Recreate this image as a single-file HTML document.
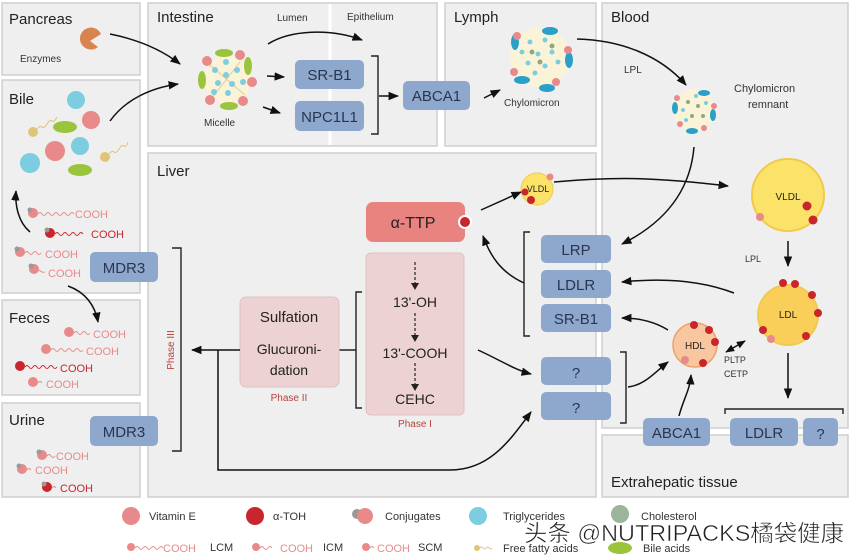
<!DOCTYPE html>
<html><head><meta charset="utf-8"><style>
html,body{margin:0;padding:0;background:#fff}
svg{display:block;font-family:"Liberation Sans","Noto Sans CJK SC",sans-serif}
.p{fill:#efefef;stroke:#cfcfcf;stroke-width:1.5}
.b{fill:#8ea8cd}
.bt{font-size:15px;fill:#2a3550;text-anchor:middle}
.t{font-size:15px;fill:#222}
.a{fill:none;stroke:#111;stroke-width:1.5;marker-end:url(#ar)}
.br{fill:none;stroke:#222;stroke-width:1.4}
.c{font-size:11px;fill:#e88a8a}
.w{fill:none;stroke:#e88a8a;stroke-width:0.9}
</style></head><body>
<svg width="850" height="557" viewBox="0 0 850 557" xmlns="http://www.w3.org/2000/svg">
<defs>
<marker id="ar" viewBox="0 0 10 10" refX="9" refY="5" markerWidth="7" markerHeight="7" orient="auto-start-reverse"><path d="M0,1 L10,5 L0,9 z" fill="#111"/></marker>
</defs>
<!-- panels -->
<rect class="p" x="2" y="3" width="138" height="72"/>
<rect class="p" x="2" y="80" width="138" height="213"/>
<rect class="p" x="2" y="300" width="138" height="95"/>
<rect class="p" x="2" y="403" width="138" height="94"/>
<rect class="p" x="148" y="3" width="289" height="143"/>
<line x1="330" y1="4" x2="330" y2="145" stroke="#fff" stroke-width="3"/>
<rect class="p" x="445" y="3" width="151" height="143"/>
<rect class="p" x="148" y="153" width="448" height="344"/>
<rect class="p" x="602" y="3" width="246" height="425"/>
<rect class="p" x="602" y="435" width="246" height="62"/>

<text class="t" x="9" y="24" font-size="16">Pancreas</text>
<text class="t" x="9" y="104" font-size="16">Bile</text>
<text class="t" x="9" y="323" font-size="16">Feces</text>
<text class="t" x="9" y="425" font-size="16">Urine</text>
<text class="t" x="157" y="22" font-size="16">Intestine</text>
<text x="277" y="21" font-size="10" fill="#333">Lumen</text>
<text x="347" y="20" font-size="10" fill="#333">Epithelium</text>
<text class="t" x="454" y="22" font-size="16">Lymph</text>
<text class="t" x="611" y="22" font-size="16">Blood</text>
<text class="t" x="157" y="176" font-size="15">Liver</text>
<text class="t" x="611" y="487" font-size="15">Extrahepatic tissue</text>

<!-- pancreas enzyme -->
<path d="M101,34 A11,11 0 1 0 98,47 L90,41 Z" fill="#d9834e"/>
<text x="20" y="62" font-size="10" fill="#333">Enzymes</text>

<!-- bile contents -->
<circle cx="76" cy="100" r="9" fill="#7ccde0"/>
<circle cx="91" cy="120" r="9" fill="#e88a8a"/>
<ellipse cx="65" cy="127" rx="12" ry="6" fill="#99c43c"/>
<circle cx="33" cy="132" r="5" fill="#e0c47a"/>
<path d="M37,129 q3,-4 5,-2 t5,-3 t5,-3 t5,-4" fill="none" stroke="#e0c47a"/>
<circle cx="55" cy="151" r="10" fill="#e88a8a"/>
<circle cx="80" cy="146" r="9" fill="#7ccde0"/>
<circle cx="30" cy="163" r="10" fill="#7ccde0"/>
<ellipse cx="80" cy="170" rx="12" ry="6" fill="#99c43c"/>
<circle cx="105" cy="157" r="5" fill="#e0c47a"/>
<path d="M109,154 q3,-4 5,-2 t5,-3 t5,-3 t4,-4" fill="none" stroke="#e0c47a"/>
<!-- bile chains -->
<g>
<circle cx="33" cy="213" r="5" fill="#e88a8a"/><circle cx="30" cy="210" r="2.5" fill="#999"/>
<path class="w" d="M38,214 q2,-3 4,0 t4,0 t4,0 t4,0 t4,0 t4,0 t4,0 t4,0 t4,0"/><text class="c" x="75" y="218">COOH</text>
<circle cx="50" cy="233" r="5" fill="#c8262c"/><circle cx="47" cy="230" r="2.5" fill="#999"/>
<path d="M55,234 q2,-3 4,0 t4,0 t4,0 t4,0 t4,0 t4,0 t4,0" fill="none" stroke="#c8262c" stroke-width="0.9"/><text class="c" x="91" y="238" style="fill:#c8262c">COOH</text>
<circle cx="20" cy="252" r="5" fill="#e88a8a"/><circle cx="17" cy="249" r="2.5" fill="#999"/>
<path class="w" d="M25,253 q2,-3 4,0 t4,0 t4,0 t4,0"/><text class="c" x="45" y="258">COOH</text>
<circle cx="34" cy="269" r="5" fill="#e88a8a"/><circle cx="31" cy="266" r="2.5" fill="#999"/>
<path class="w" d="M39,270 q3,3 6,2"/><text class="c" x="48" y="277">COOH</text>
</g>
<!-- feces chains -->
<circle cx="69" cy="332" r="5" fill="#e88a8a"/><path class="w" d="M74,333 q2,-3 4,0 t4,0 t4,0 t4,0"/><text class="c" x="93" y="338">COOH</text>
<circle cx="46" cy="349" r="5" fill="#e88a8a"/><path class="w" d="M51,350 q2,-3 4,0 t4,0 t4,0 t4,0 t4,0 t4,0 t4,0 t4,0"/><text class="c" x="86" y="355">COOH</text>
<circle cx="20" cy="366" r="5" fill="#c8262c"/><path d="M25,367 q2,-3 4,0 t4,0 t4,0 t4,0 t4,0 t4,0 t4,0 t4,0" fill="none" stroke="#c8262c" stroke-width="0.9"/><text x="60" y="372" font-size="11" fill="#c8262c">COOH</text>
<circle cx="33" cy="382" r="5" fill="#e88a8a"/><path class="w" d="M38,383 q2,-3 4,0"/><text class="c" x="46" y="388">COOH</text>
<!-- urine chains -->
<circle cx="42" cy="455" r="5" fill="#e88a8a"/><circle cx="39" cy="452" r="2.5" fill="#999"/><path class="w" d="M47,456 q2,-3 4,0 t4,0"/><text class="c" x="56" y="460">COOH</text>
<circle cx="22" cy="469" r="5" fill="#e88a8a"/><circle cx="19" cy="466" r="2.5" fill="#999"/><path class="w" d="M27,470 q2,-3 4,0"/><text class="c" x="35" y="474">COOH</text>
<circle cx="47" cy="487" r="5" fill="#c8262c"/><circle cx="44" cy="484" r="2.5" fill="#999"/><path class="w" d="M52,488 q2,-3 4,0"/><text x="60" y="492" font-size="11" fill="#c8262c">COOH</text>

<!-- micelle -->
<circle cx="227" cy="80" r="24" fill="#fbf3d8"/>
<g stroke="#e6c990" stroke-width="1"><line x1="210" y1="65" x2="245" y2="95"/><line x1="240" y1="62" x2="212" y2="98"/></g>
<g fill="#7ccde0"><circle cx="226" cy="62" r="3"/><circle cx="215" cy="70" r="3"/><circle cx="237" cy="70" r="3"/><circle cx="226" cy="75" r="3"/><circle cx="218" cy="83" r="3"/><circle cx="232" cy="84" r="3"/><circle cx="214" cy="92" r="3"/><circle cx="228" cy="93" r="3"/><circle cx="243" cy="82" r="3"/></g>
<g fill="#99c43c"><ellipse cx="224" cy="53" rx="9" ry="4"/><ellipse cx="248" cy="66" rx="4" ry="9"/><ellipse cx="202" cy="80" rx="4" ry="9"/><ellipse cx="229" cy="106" rx="9" ry="4"/></g>
<g fill="#e88a8a"><circle cx="207" cy="61" r="5"/><circle cx="240" cy="55" r="5"/><circle cx="252" cy="82" r="5"/><circle cx="243" cy="101" r="5"/><circle cx="210" cy="100" r="5"/></g>
<text x="204" y="126" font-size="10" fill="#333">Micelle</text>

<!-- intestine boxes -->
<rect class="b" x="295" y="60" width="69" height="29" rx="5"/><text class="bt" x="329.5" y="80">SR-B1</text>
<rect class="b" x="295" y="101" width="69" height="30" rx="5"/><text class="bt" x="329.5" y="122">NPC1L1</text>
<path class="br" d="M371,56 H378 V134 H371"/>
<rect class="b" x="403" y="81" width="67" height="29" rx="5"/><text class="bt" x="436.5" y="101">ABCA1</text>

<!-- chylomicron -->
<circle cx="540" cy="57" r="30" fill="#fbf3d8"/>
<g fill="#7ccde0"><circle cx="530" cy="42" r="2.5"/><circle cx="545" cy="40" r="2.5"/><circle cx="522" cy="52" r="2.5"/><circle cx="538" cy="54" r="2.5"/><circle cx="552" cy="52" r="2.5"/><circle cx="528" cy="63" r="2.5"/><circle cx="545" cy="66" r="2.5"/><circle cx="535" cy="73" r="2.5"/><circle cx="558" cy="62" r="2.5"/></g>
<g fill="#8ea882"><circle cx="532" cy="52" r="2.5"/><circle cx="552" cy="46" r="2.5"/><circle cx="540" cy="62" r="2.5"/></g>
<g fill="#2aa0c8"><ellipse cx="515" cy="42" rx="4" ry="8"/><ellipse cx="550" cy="31" rx="8" ry="4"/><ellipse cx="569" cy="60" rx="4" ry="8"/><ellipse cx="522" cy="80" rx="8" ry="4"/><ellipse cx="547" cy="88" rx="8" ry="4"/></g>
<g fill="#e88a8a"><circle cx="517" cy="36" r="4"/><circle cx="568" cy="50" r="4"/><circle cx="514" cy="72" r="4"/><circle cx="556" cy="82" r="4"/></g>
<text x="504" y="106" font-size="10" fill="#333">Chylomicron</text>
<!-- remnant -->
<circle cx="694" cy="110" r="21" fill="#fbf3d8"/>
<g fill="#8ea882"><circle cx="688" cy="102" r="2"/><circle cx="698" cy="106" r="2"/><circle cx="692" cy="116" r="2"/><circle cx="703" cy="116" r="2"/></g>
<g fill="#7ccde0"><circle cx="683" cy="110" r="2"/><circle cx="696" cy="96" r="2"/><circle cx="706" cy="103" r="2"/><circle cx="686" cy="120" r="2"/></g>
<g fill="#2aa0c8"><ellipse cx="675" cy="108" rx="3" ry="6"/><ellipse cx="704" cy="93" rx="6" ry="3"/><ellipse cx="713" cy="115" rx="3" ry="6"/><ellipse cx="692" cy="131" rx="6" ry="3"/></g>
<g fill="#e88a8a"><circle cx="677" cy="98" r="3"/><circle cx="714" cy="106" r="3"/><circle cx="680" cy="124" r="3"/><circle cx="704" cy="128" r="3"/></g>
<text x="734" y="92" font-size="11" fill="#333">Chylomicron</text>
<text x="748" y="108" font-size="11" fill="#333">remnant</text>
<text x="624" y="73" font-size="10" fill="#333">LPL</text>

<!-- liver -->
<rect x="366" y="202" width="99" height="40" rx="7" fill="#e8837f"/>
<text x="413" y="228" font-size="16" fill="#222" text-anchor="middle">α-TTP</text>
<circle cx="465" cy="222" r="7" fill="#fff"/><circle cx="465" cy="222" r="5" fill="#c8262c"/>
<rect x="366" y="253" width="98" height="162" rx="5" fill="#ecd2d2" stroke="#e0c0c0"/>
<g stroke="#222" stroke-width="1.2" stroke-dasharray="3,2" fill="none">
<line x1="415" y1="262" x2="415" y2="283"/><line x1="415" y1="313" x2="415" y2="336"/><line x1="415" y1="363" x2="415" y2="384"/></g>
<g fill="#222"><path d="M411,283 L419,283 L415,290 Z"/><path d="M411,335 L419,335 L415,342 Z"/><path d="M411,384 L419,384 L415,391 Z"/></g>
<text x="415" y="307" font-size="14" fill="#222" text-anchor="middle">13'-OH</text>
<text x="415" y="358" font-size="14" fill="#222" text-anchor="middle">13'-COOH</text>
<text x="415" y="404" font-size="14" fill="#222" text-anchor="middle">CEHC</text>
<text x="415" y="427" font-size="10" fill="#b5413c" text-anchor="middle">Phase I</text>
<path class="br" d="M362,292 H356 V408 H362"/>
<line x1="339" y1="350" x2="356" y2="350" stroke="#222" stroke-width="1.4"/>
<rect x="240" y="297" width="99" height="90" rx="6" fill="#ecd2d2" stroke="#e0c0c0"/>
<text x="289" y="322" font-size="15" fill="#222" text-anchor="middle">Sulfation</text>
<text x="289" y="354" font-size="14" fill="#222" text-anchor="middle">Glucuroni-</text>
<text x="289" y="375" font-size="14" fill="#222" text-anchor="middle">dation</text>
<text x="289" y="401" font-size="10" fill="#b5413c" text-anchor="middle">Phase II</text>
<path class="a" d="M240,350 H192"/>
<path d="M218,350 V470 H450 C490,470 510,440 531,412" fill="none" stroke="#111" stroke-width="1.5" marker-end="url(#ar)"/>
<path class="br" d="M172,248 H181 V451 H172"/>
<text x="0" y="0" font-size="10" fill="#b5413c" transform="translate(174,350) rotate(-90)" text-anchor="middle">Phase III</text>
<rect class="b" x="90" y="252" width="68" height="30" rx="5"/><text class="bt" x="124" y="273">MDR3</text>
<rect class="b" x="90" y="416" width="68" height="30" rx="5"/><text class="bt" x="124" y="437">MDR3</text>

<!-- receptor boxes -->
<rect class="b" x="541" y="235" width="70" height="28" rx="5"/><text class="bt" x="576" y="255">LRP</text>
<rect class="b" x="541" y="270" width="70" height="28" rx="5"/><text class="bt" x="576" y="290">LDLR</text>
<rect class="b" x="541" y="304" width="70" height="28" rx="5"/><text class="bt" x="576" y="324">SR-B1</text>
<path class="br" d="M530,232 H524 V336 H530"/>
<rect class="b" x="541" y="357" width="70" height="28" rx="5"/><text class="bt" x="576" y="378" font-size="17">?</text>
<rect class="b" x="541" y="392" width="70" height="28" rx="5"/><text class="bt" x="576" y="413" font-size="17">?</text>
<path class="br" d="M620,352 H626 V423 H620"/>
<rect class="b" x="643" y="418" width="67" height="28" rx="5"/><text class="bt" x="676.5" y="438">ABCA1</text>
<rect class="b" x="730" y="418" width="68" height="28" rx="5"/><text class="bt" x="764" y="438">LDLR</text>
<rect class="b" x="803" y="418" width="35" height="28" rx="5"/><text class="bt" x="820.5" y="439" font-size="17">?</text>
<path class="br" d="M725,414 V409 H843 V414"/>

<!-- lipoproteins -->
<circle cx="537" cy="189" r="16" fill="#fbe36a" stroke="#f2c94c"/>
<text x="538" y="192" font-size="9" fill="#222" text-anchor="middle">VLDL</text>
<circle cx="531" cy="200" r="4" fill="#c8262c"/><circle cx="525" cy="192" r="3.5" fill="#c8262c"/><circle cx="550" cy="177" r="3.5" fill="#e88a8a"/>
<circle cx="788" cy="195" r="36" fill="#fbe36a" stroke="#f2c94c" stroke-width="2"/>
<text x="788" y="200" font-size="10" fill="#222" text-anchor="middle">VLDL</text>
<circle cx="807" cy="206" r="4.5" fill="#c8262c"/><circle cx="813" cy="220" r="4.5" fill="#c8262c"/><circle cx="760" cy="217" r="4" fill="#e88a8a"/>
<text x="745" y="262" font-size="9" fill="#333">LPL</text>
<circle cx="788" cy="315" r="30" fill="#f9cf5a" stroke="#f2c94c" stroke-width="2"/>
<text x="788" y="318" font-size="10" fill="#222" text-anchor="middle">LDL</text>
<g fill="#c8262c"><circle cx="783" cy="283" r="4"/><circle cx="795" cy="284" r="4"/><circle cx="812" cy="295" r="4"/><circle cx="818" cy="313" r="4"/><circle cx="763" cy="330" r="4"/><circle cx="806" cy="336" r="4"/></g>
<circle cx="771" cy="339" r="4" fill="#e88a8a"/>
<circle cx="695" cy="345" r="22" fill="#f8c7a0" stroke="#f0a070" stroke-width="1.5"/>
<text x="695" y="349" font-size="10" fill="#222" text-anchor="middle">HDL</text>
<g fill="#c8262c"><circle cx="694" cy="325" r="4"/><circle cx="709" cy="330" r="4"/><circle cx="715" cy="342" r="4"/><circle cx="703" cy="363" r="4"/></g>
<circle cx="685" cy="360" r="4" fill="#e88a8a"/>
<text x="724" y="363" font-size="9" fill="#333">PLTP</text>
<text x="724" y="377" font-size="9" fill="#333">CETP</text>

<!-- arrows -->
<path class="a" d="M110,34 C140,40 162,50 180,64"/>
<path class="a" d="M110,121 C125,100 150,88 178,84"/>
<path class="a" d="M268,44 C290,30 330,28 362,40"/>
<path class="a" d="M267,76 L284,77"/>
<path class="a" d="M263,107 L280,113"/>
<path class="a" d="M379,96 L398,96"/>
<path class="a" d="M484,98 L500,90"/>
<path class="a" d="M577,39 C620,40 660,55 686,85"/>
<path class="a" d="M694,147 C690,195 660,225 622,244"/>
<path class="a" d="M481,210 L521,192"/>
<path class="a" d="M554,182 C620,176 660,178 728,186"/>
<path class="a" d="M788,241 L788,266"/>
<path class="a" d="M734,293 C700,280 660,278 622,282"/>
<path class="a" d="M668,330 C655,322 640,318 622,318"/>
<path d="M726,352 L745,341" fill="none" stroke="#111" stroke-width="1.3" marker-start="url(#ar)" marker-end="url(#ar)"/>
<path class="a" d="M788,353 L788,398"/>
<path class="a" d="M679,416 C683,400 690,390 691,375"/>
<path class="a" d="M628,387 C645,385 655,372 668,362"/>
<path class="a" d="M478,350 C500,360 515,370 531,374"/>
<path class="a" d="M524,283 C500,272 490,255 483,236"/>
<path class="a" d="M30,232 C18,222 15,205 16,191"/>
<path class="a" d="M68,286 C85,292 95,305 98,322"/>

<!-- legend -->
<circle cx="131" cy="516" r="9" fill="#e88a8a"/><text x="149" y="520" font-size="11" fill="#333">Vitamin E</text>
<circle cx="255" cy="516" r="9" fill="#c8262c"/><text x="273" y="520" font-size="11" fill="#333">α-TOH</text>
<circle cx="357" cy="514" r="5" fill="#999"/><circle cx="365" cy="516" r="8" fill="#e88a8a"/><text x="385" y="520" font-size="11" fill="#333">Conjugates</text>
<circle cx="478" cy="516" r="9" fill="#7ccde0"/><text x="503" y="520" font-size="11" fill="#333">Triglycerides</text>
<circle cx="620" cy="514" r="9" fill="#9ab59b"/><text x="641" y="520" font-size="11" fill="#333">Cholesterol</text>
<circle cx="131" cy="547" r="4" fill="#e88a8a"/><path class="w" d="M135,548 q2,-3 4,0 t4,0 t4,0 t4,0 t4,0 t4,0 t4,0"/><text class="c" x="163" y="552">COOH</text><text x="210" y="551" font-size="11" fill="#333">LCM</text>
<circle cx="256" cy="547" r="4" fill="#e88a8a"/><path class="w" d="M260,548 q2,-3 4,0 t4,0 t4,0"/><text class="c" x="280" y="552">COOH</text><text x="323" y="551" font-size="11" fill="#333">ICM</text>
<circle cx="366" cy="547" r="4" fill="#e88a8a"/><path class="w" d="M370,548 q2,-3 4,0"/><text class="c" x="377" y="552">COOH</text><text x="418" y="551" font-size="11" fill="#333">SCM</text>
<circle cx="477" cy="548" r="3" fill="#e0c47a"/><path d="M480,548 q1.5,-2 3,0 t3,0 t3,0 t3,0" fill="none" stroke="#e0c47a"/><text x="503" y="552" font-size="11" fill="#333">Free fatty acids</text>
<ellipse cx="620" cy="548" rx="12" ry="6" fill="#99c43c"/><text x="643" y="552" font-size="11" fill="#333">Bile acids</text>
<text x="524" y="541" font-size="23" fill="#222" stroke="#fff" stroke-width="0.5" textLength="320" lengthAdjust="spacingAndGlyphs">头条 @NUTRIPACKS橘袋健康</text>
</svg>
</body></html>
